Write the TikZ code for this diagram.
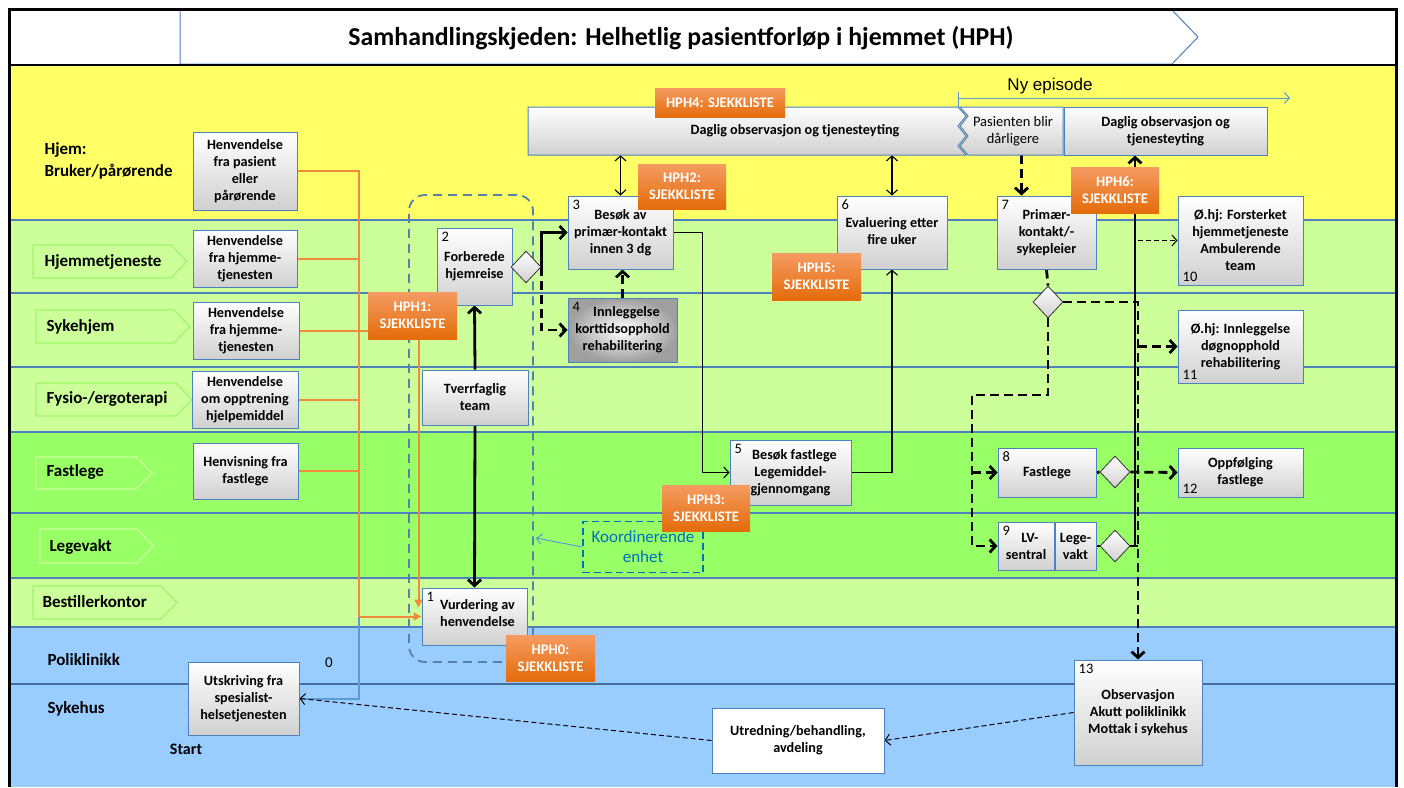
\documentclass[tikz,border=0pt]{standalone}
\usepackage{fontspec}
\setmainfont{Carlito}
\newfontfamily\arialfont{Liberation Sans}
\usetikzlibrary{positioning,shapes.geometric,arrows.meta,calc}

\definecolor{laneyellow}{HTML}{FFFF66}
\definecolor{lanelight}{HTML}{CCFF99}
\definecolor{lanegreen}{HTML}{99FF66}
\definecolor{laneblue}{HTML}{99CCFF}
\definecolor{chevgreen}{HTML}{9EF56A}
\definecolor{boxline}{HTML}{4F81BD}
\definecolor{boxgray}{HTML}{D0D0D0}
\definecolor{hphtop}{HTML}{F59B62}
\definecolor{hphbot}{HTML}{E46C0A}
\definecolor{refcolor}{HTML}{F08A3C}
\definecolor{koordblue}{HTML}{0070C0}
\definecolor{episode}{HTML}{5B9BD5}
\definecolor{groupblue}{HTML}{5A7FA8}

\newcommand\txtbox{\fontsize{14.2}{17}\selectfont\bfseries}
\newcommand\txtlane{\fontsize{17}{22}\selectfont\bfseries}
\newcommand\txthph{\fontsize{14.6}{17}\selectfont\bfseries}
\newcommand\txtnum{\fontsize{14.5}{17}\selectfont}
\newcommand\txttitle{\fontsize{25.8}{30}\selectfont\bfseries}
\newcommand\txtkoord{\fontsize{17}{20}\selectfont}

\pgfdeclarelayer{lanes}
\pgfdeclarelayer{links}
\pgfsetlayers{lanes,links,main}

\tikzset{
  box/.style={draw=boxline, line width=1pt, top color=white, bottom color=boxgray,
    font=\txtbox, align=center, inner sep=1pt},
  plainbox/.style={draw=boxline, line width=1pt, fill=white, font=\txtbox, align=center},
  hph/.style={top color=hphtop, bottom color=hphbot, text=white, font=\txthph,
    align=center, inner sep=1pt},
  gate/.style={diamond, draw=black!80, line width=0.8pt, top color=white,
    bottom color=boxgray, minimum width=30, minimum height=32, inner sep=0pt},
  lanetxt/.style={font=\txtlane, anchor=west, align=left},
  num/.style={label={[anchor=north west, font=\txtnum, inner xsep=5pt, inner ysep=4pt]north west:#1}},
  numlow/.style={label={[anchor=south west, font=\txtnum, inner xsep=5pt, inner ysep=4pt]south west:#1}},
  thickline/.style={line width=2.8pt},
  flow/.style={thickline, -{Straight Barb[length=6pt, width=13pt]}},
  flowdash/.style={flow, dash pattern=on 9pt off 5pt},
  dashline/.style={thickline, dash pattern=on 9pt off 5pt},
  thinflow/.style={line width=1.1pt, -{Straight Barb[length=5pt, width=11pt]}},
  bothflow/.style={line width=1.1pt, {Straight Barb[length=5pt, width=11pt]}-{Straight Barb[length=5pt, width=11pt]}},
  thindash/.style={line width=1pt, dash pattern=on 5pt off 3pt,
    -{Straight Barb[length=5pt, width=11pt]}},
  refline/.style={draw=refcolor, line width=2pt},
  laneline/.style={draw=boxline, line width=1.2pt},
}

\begin{document}
\begin{tikzpicture}[x=1pt, y=-1pt]
\useasboundingbox (0,0) rectangle (1404,787);

\begin{pgfonlayer}{lanes}
	\fill[white] (10,10) rectangle (1396,65);
	\fill[laneyellow] (10,65) rectangle (1396,220);
	\fill[lanelight] (10,220) rectangle (1396,432);
	\fill[lanegreen] (10,432) rectangle (1396,578);
	\fill[lanelight] (10,578) rectangle (1396,627);
	\fill[laneblue] (10,627) rectangle (1396,787);
	\foreach \y in {220,293,367,432,513,578,627}
		\draw[laneline] (10,\y) -- (1396,\y);
	\draw[laneline, line width=2.4pt, draw=boxline!85!black] (10,684) -- (1396,684);

	% lane chevrons
	\foreach \xa/\xb/\xc/\ya/\yb/\col in {33/171/187/245/278/chevgreen, 36/174/190/310/343/chevgreen,
		36/176/192/383/416/chevgreen, 36/136/152/457/489/lanelight,
		40/137/153/529/563/lanelight, 33/161/177/586/619/chevgreen}
		\draw[\col, line width=1.2pt] (\xa,\ya) -- (\xb,\ya) -- (\xc,{(\ya+\yb)/2}) -- (\xb,\yb) -- (\xa,\yb) -- cycle;

	% header and frame
	\draw[boxline, fill=white, line width=1pt] (180,10) -- (1172,10) -- (1198,37) -- (1172,64) -- (180,64) -- cycle;
	\draw[line width=2pt] (9,65) -- (1396,65);
	\draw[line width=3pt] (9,787) -- (9,9) -- (1396,9) -- (1396,787);
\end{pgfonlayer}

\node[font=\txttitle] (title) at (681,38) {Samhandlingskjeden: Helhetlig pasientforløp i hjemmet (HPH)};

% lane labels
\node[lanetxt] (lhjem) at (41,161) {Hjem:\\Bruker/pårørende};
\node[lanetxt] (lhjt) at (41,262) {Hjemmetjeneste};
\node[lanetxt] (lsyk) at (43,327) {Sykehjem};
\node[lanetxt] (lfys) at (43,399) {Fysio-/ergoterapi};
\node[lanetxt] (lfast) at (43,472) {Fastlege};
\node[lanetxt] (llv) at (46,547) {Legevakt};
\node[lanetxt] (lbest) at (39,602) {Bestillerkontor};
\node[lanetxt] (lpol) at (44,660) {Poliklinikk};
\node[lanetxt] (lsh) at (44,709) {Sykehus};

% referrals
\node[box, minimum width=104, minimum height=78] (src1) at (245,171) {Henvendelse\\fra pasient\\eller\\pårørende};
\node[box, minimum width=104, minimum height=57] (src2) at (245,258.5) {Henvendelse\\fra hjemme-\\tjenesten};
\node[box, minimum width=106, minimum height=57] (src3) at (246,330.5) {Henvendelse\\fra hjemme-\\tjenesten};
\node[box, minimum width=106, minimum height=57] (src4) at (245,399.5) {Henvendelse\\om opptrening\\hjelpemiddel};
\node[box, minimum width=105, minimum height=56] (src5) at (245.5,471) {Henvisning fra\\fastlege};
\node[box, minimum width=111, minimum height=73] (src0) at (243.5,698.5) {Utskriving fra\\spesialist-\\helsetjenesten};
\node[font=\fontsize{15}{18}\selectfont] (zero) at (329,663) {0};
\node[font=\fontsize{16}{20}\selectfont\bfseries] (start) at (186,749) {Start};

% daily care band
\shade[top color=white, bottom color=boxgray, draw=boxline, line width=1pt]
	(528,107) -- (958,107) -- (966,116) -- (958,126) -- (966,136) -- (958,146) -- (966,155) -- (528,155) -- cycle;
\shade[top color=white, bottom color=boxgray, draw=boxline, line width=1pt]
	(960,107) -- (1063,107) -- (1063,155) -- (968,155) -- (960,146) -- (968,136) -- (960,126) -- (968,116) -- cycle;
\node[font=\txtbox, minimum height=48] (dagA) at (795,131) {Daglig observasjon og tjenesteyting};
\node[font=\txtnum, align=center, minimum height=48] (dagB) at (1013,131) {Pasienten blir\\dårligere};
\node[box, minimum width=203, minimum height=48] (dagC) at (1165.5,131) {Daglig observasjon og\\tjenesteyting};

\node[font=\arialfont\fontsize{17}{20}\selectfont] (nyep) at (1050,86) {Ny episode};
\coordinate (epstart) at (958,98);
\coordinate (epend) at (1290,98);

% main chain
\node[box, num=1, minimum width=105, minimum height=57] (b1) at (474.5,616.5) {\\[-14pt]\hspace*{6pt}Vurdering av\\\hspace*{6pt}henvendelse};
\node[box, num=2, minimum width=75, minimum height=77] (b2) at (474.5,266.5) {\\[-8pt]Forberede\\hjemreise};
\node[box, minimum width=106, minimum height=55] (tverr) at (475,397.5) {Tverrfaglig\\team};
\node[gate] (d2) at (526,267) {};
\node[box, num=3, minimum width=105, minimum height=73] (b3) at (620.5,232.5) {Besøk av\\primær-kontakt\\innen 3 dg};
\node[box, num=4, shading=radial, inner color=white, outer color=gray!75, minimum width=109, minimum height=64] (b4) at (622.5,330) {\hspace*{8pt}Innleggelse\\korttidsopphold\\rehabilitering};
\node[box, num=5, minimum width=121, minimum height=65] (b5) at (790.5,472.5) {\hspace*{8pt}Besøk fastlege\\Legemiddel-\\gjennomgang};
\node[box, num=6, minimum width=110, minimum height=73] (b6) at (892,232.5) {\\[-10pt]Evaluering etter\\fire uker};

% new episode
\node[box, num=7, minimum width=99, minimum height=73] (b7) at (1046.5,232.5) {Primær-\\kontakt/-\\sykepleier};
\node[gate] (d7) at (1048,302) {};
\node[box, num=8, minimum width=98, minimum height=49] (b8) at (1047,472.5) {Fastlege};
\node[gate] (d8) at (1115,472) {};
\node[box, num=9, minimum width=56, minimum height=48] (b9a) at (1026,546) {\hspace*{8pt}LV-\\sentral};
\node[box, minimum width=41, minimum height=48] (b9b) at (1075.5,546) {Lege-\\vakt};
\node[gate] (d9) at (1115,546) {};
\node[box, numlow=10, minimum width=125, minimum height=89] (b10) at (1240.5,240.5) {Ø.hj: Forsterket\\hjemmetjeneste\\Ambulerende\\team};
\node[box, numlow=11, minimum width=125, minimum height=73] (b11) at (1240.5,346.5) {Ø.hj: Innleggelse\\døgnopphold\\rehabilitering};
\node[box, numlow=12, minimum width=125, minimum height=49] (b12) at (1240.5,472.5) {Oppfølging\\fastlege};
\node[box, num=13, minimum width=128, minimum height=105] (b13) at (1138,712.5) {Observasjon\\Akutt poliklinikk\\Mottak i sykehus};
\node[plainbox, minimum width=172, minimum height=65] (utred) at (798,740.5) {Utredning/behandling,\\avdeling};

% checklists
\node[hph, minimum width=130, minimum height=29] (hph4) at (720,102.5) {HPH4: SJEKKLISTE};
\node[hph, minimum width=88, minimum height=45] (hph2) at (682,186.5) {HPH2:\\SJEKKLISTE};
\node[hph, minimum width=89, minimum height=47] (hph5) at (816.5,276.5) {HPH5:\\SJEKKLISTE};
\node[hph, minimum width=89, minimum height=47] (hph1) at (412.5,315.5) {HPH1:\\SJEKKLISTE};
\node[hph, minimum width=88, minimum height=46] (hph3) at (706,508) {HPH3:\\SJEKKLISTE};
\node[hph, minimum width=89, minimum height=46] (hph0) at (550.5,658) {HPH0:\\SJEKKLISTE};
\node[hph, minimum width=88, minimum height=46] (hph6) at (1115,190) {HPH6:\\SJEKKLISTE};

\begin{pgfonlayer}{links}
	\node[draw=groupblue, line width=1.8pt, dash pattern=on 9pt off 6pt, rounded corners=16pt,
		minimum width=124, minimum height=467] (hjemgrp) at (471,428.5) {};
	\node[draw=koordblue, line width=1.5pt, dash pattern=on 7pt off 4pt, minimum width=120,
		minimum height=51, text=koordblue, font=\txtkoord, align=center] (koord) at (643,547) {Koordinerende\\enhet};
	\draw[episode, line width=1pt, -{Straight Barb[length=5pt, width=11pt]}] (epstart) -- (epend);
	\draw[episode, line width=1pt] ($(epstart)+(0,-6)$) -- ($(epstart)+(0,9)$);

	% referrals into assessment
	\coordinate (obus) at (359,171);
	\draw[refline, -{Triangle[length=8pt, width=8pt]}] (src1.east) -- (obus) -- (obus |- b1.west) -- (b1.west);
	\foreach \s in {src2,src3,src4,src5}
		\draw[refline] (\s.east) -- (\s.east -| obus);
	\draw[refline, -{Triangle[length=8pt, width=8pt]}] (src3.east) -| ($(b1.north west)+(-3,20)$);
	\draw[episode, line width=2pt] (src0.east) -- (src0.east -| obus) -- (obus |- b1.west);
	\draw[episode, line width=1pt, -{Straight Barb[length=5pt, width=10pt]}] (koord.west) -- ($(koord.west -| hjemgrp.east)+(2,-9)$);

	% main chain
	\draw[flow] (tverr.north) -- (b2.south);
	\draw[flow] (tverr.south) -- (b1.north);
	\draw[flow] (d2.east) |- (b3.west);
	\draw[flowdash] (d2.east) |- (b4.west);
	\draw[flowdash] (b4.north) -- (b4.north |- b3.south);
	\draw[bothflow] (b3.north) -- (b3.north |- dagA.south);
	\draw[bothflow] (b6.north) -- (b6.north |- dagA.south);
	\draw[thinflow] (b3.east) -- ++(29,0) |- (b5.west);
	\draw[thinflow] (b5.east) -| (b6.south);

	% new episode
	\coordinate (b7top) at ($(b7.north west)!0.25!(b7.north east)$);
	\draw[flowdash] (b7top |- dagB.south) -- (b7top);
	\draw[dashline] (b7.south) -- (d7.north);
	\coordinate (elb) at (972,395);
	\draw[flowdash] (d7.south) |- (elb) |- (b9a.west);
	\draw[flowdash] (elb |- b8.west) -- (b8.west);
	\draw[thickline] (b8.east) -- (d8.west);
	\draw[thickline] (b9b.east) -- (d9.west);
	\draw[flowdash] (d8.east) -- (b12.west);
	\coordinate (bus) at (b13.north);
	\coordinate (busS) at ($(b13.north)+(-3,0)$);
	\draw[thickline] (d9.east) -- (d9.east -| bus);
	\draw[flow] (busS |- d9.east) -- (busS |- dagC.south);
	\draw[flowdash] (d7.east) -- (d7.east -| bus) -- (bus);
	\draw[thindash] (b10.west -| bus) -- (b10.west);
	\draw[flowdash] (b11.west -| bus) -- (b11.west);

	% back to hospital
	\draw[thindash] (b13.west) -- (utred.east);
	\draw[thindash] (utred.west) -- (src0.east);
\end{pgfonlayer}

\end{tikzpicture}
\end{document}
